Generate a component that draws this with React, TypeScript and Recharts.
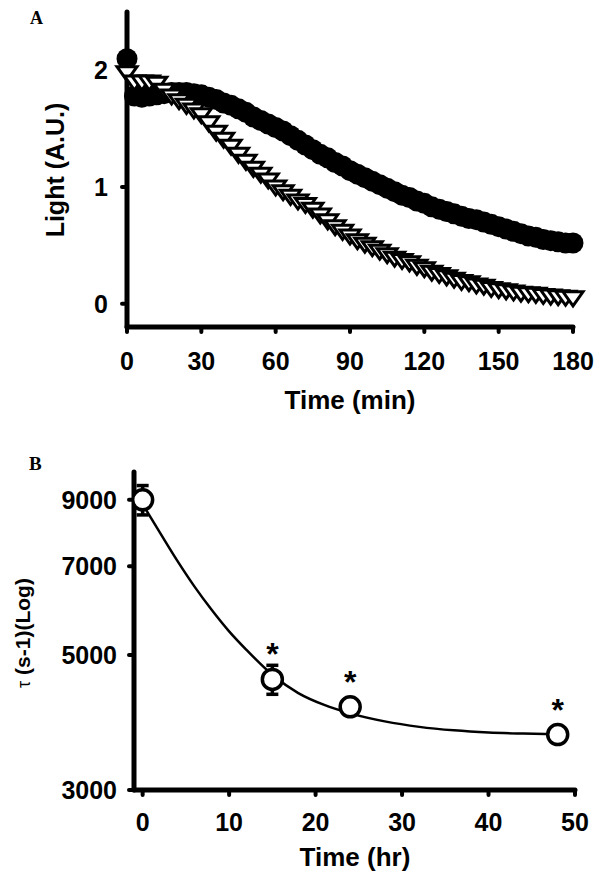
import React from "react";
import { ScatterChart, ComposedChart, Scatter, Line, XAxis, YAxis, ErrorBar } from "recharts";

// Panel A: light decay, sampled every 3 min
const minutes = [
  0, 3, 6, 9, 12, 15, 18, 21, 24, 27, 30, 33, 36, 39, 42, 45, 48, 51, 54, 57, 60,
  63, 66, 69, 72, 75, 78, 81, 84, 87, 90, 93, 96, 99, 102, 105, 108, 111, 114, 117, 120,
  123, 126, 129, 132, 135, 138, 141, 144, 147, 150, 153, 156, 159, 162, 165, 168, 171, 174, 177, 180,
];
const lightFilled = [
  2.1, 1.78, 1.77, 1.78, 1.79, 1.8, 1.81, 1.81, 1.81, 1.8, 1.79, 1.77, 1.75, 1.72, 1.7, 1.67, 1.64, 1.6, 1.57, 1.54, 1.51,
  1.48, 1.44, 1.4, 1.36, 1.32, 1.28, 1.25, 1.21, 1.18, 1.14, 1.11, 1.08, 1.05, 1.02, 0.99, 0.96, 0.93, 0.91, 0.88, 0.86,
  0.83, 0.81, 0.79, 0.77, 0.75, 0.73, 0.72, 0.7, 0.68, 0.66, 0.64, 0.62, 0.6, 0.58, 0.57, 0.55, 0.54, 0.53, 0.52, 0.52,
];
const lightOpen = [
  1.98, 1.9, 1.9, 1.9, 1.89, 1.83, 1.78, 1.74, 1.7, 1.66, 1.62, 1.55, 1.47, 1.41, 1.35, 1.28, 1.22, 1.16, 1.11, 1.06, 1.0,
  0.96, 0.92, 0.88, 0.85, 0.81, 0.76, 0.71, 0.66, 0.62, 0.58, 0.54, 0.51, 0.48, 0.45, 0.42, 0.39, 0.37, 0.35, 0.32, 0.3,
  0.27, 0.25, 0.23, 0.21, 0.19, 0.18, 0.16, 0.15, 0.13, 0.12, 0.11, 0.1, 0.09, 0.085, 0.08, 0.07, 0.065, 0.06, 0.055, 0.05,
];
const minuteTicks = [0, 30, 60, 90, 120, 150, 180];
const lightTicks = [0, 1, 2];

// Panel B: time constant
const hours = [0, 15, 24, 48];
const tauMean = [9000, 4560, 4110, 3700];
const tauSem = [500, 250, 80, 60];
const significant = [false, true, true, true];
const fitHours = [0, 2, 4, 6, 8, 10, 12, 15, 18, 21, 24, 28, 32, 36, 40, 44, 48];
const fitTau = [8850, 7950, 7150, 6480, 5930, 5470, 5100, 4640, 4330, 4140, 4010, 3890, 3810, 3760, 3730, 3715, 3705];
const hourTicks = [0, 10, 20, 30, 40, 50];
const tauTicks = [3000, 5000, 7000, 9000];

const filledData = minutes.map((t, i) => ({ t, v: lightFilled[i] }));
const openData = minutes.map((t, i) => ({ t, v: lightOpen[i] }));
const tauData = hours.map((t, i) => ({ t, tau: tauMean[i], err: tauSem[i], sig: significant[i] }));
const fitData = fitHours.map((t, i) => ({ t, tau: fitTau[i] }));

const sans = "'Liberation Sans', Arial, Helvetica, sans-serif";
const serif = "'Liberation Serif', 'Times New Roman', serif";

const axisLine = { stroke: "#000", strokeWidth: 5, strokeLinecap: "round" as const };
const tickLine = { stroke: "#000", strokeWidth: 4, strokeLinecap: "round" as const };
const tickStyle = { fill: "#000", fontSize: 25, fontWeight: 700, fontFamily: sans };

const FilledDot = (p: any) => <circle cx={p.cx} cy={p.cy} r={10.5} fill="#000" />;

const OpenTriangle = (p: any) => (
  <path
    d={`M${p.cx - 10},${p.cy - 6}L${p.cx + 10},${p.cy - 6}L${p.cx},${p.cy + 8}Z`}
    fill="#fff"
    stroke="#000"
    strokeWidth={3}
  />
);

const OpenCircle = (p: any) => (
  <g>
    <circle cx={p.cx} cy={p.cy} r={10} fill="#fff" stroke="#000" strokeWidth={3.5} />
    {p.payload?.sig && (
      <text x={p.cx} y={p.cy - 14} textAnchor="middle" fontSize={32} fontWeight={700} fontFamily={sans} fill="#000">
        *
      </text>
    )}
  </g>
);

export default function App() {
  return (
    <div style={{ position: "absolute", left: 0, top: 0, width: 604, height: 879, background: "#fff" }}>
      <ScatterChart width={604} height={430} margin={{ top: 12, right: 31, bottom: 43, left: 67 }}>
        <XAxis
          dataKey="t"
          type="number"
          domain={[0, 180]}
          ticks={minuteTicks}
          height={60}
          axisLine={axisLine}
          tickLine={tickLine}
          tickSize={5}
          tickMargin={20}
          tick={tickStyle}
        />
        <YAxis
          dataKey="v"
          type="number"
          domain={[-0.2, 2.5]}
          ticks={lightTicks}
          width={60}
          axisLine={axisLine}
          tickLine={tickLine}
          tickSize={5}
          tickMargin={14}
          tick={tickStyle}
        />
        <Scatter data={filledData} shape={FilledDot} isAnimationActive={false} />
        <Scatter data={openData} shape={OpenTriangle} isAnimationActive={false} />
        <text x={30} y={24} fontFamily={serif} fontWeight={700} fontSize={18} fill="#000">A</text>
        <text x={350} y={409} textAnchor="middle" fontFamily={sans} fontWeight={700} fontSize={26} fill="#000">
          Time (min)
        </text>
        <text
          x={64}
          y={170}
          textAnchor="middle"
          transform="rotate(-90 64 170)"
          fontFamily={sans}
          fontWeight={700}
          fontSize={25}
          fill="#000"
        >
          Light (A.U.)
        </text>
      </ScatterChart>

      <ComposedChart width={604} height={449} margin={{ top: 42, right: 29, bottom: 29, left: 64 }}>
        <XAxis
          dataKey="t"
          type="number"
          domain={[-1, 50]}
          ticks={hourTicks}
          height={60}
          axisLine={axisLine}
          tickLine={tickLine}
          tickSize={5}
          tickMargin={18}
          tick={tickStyle}
          allowDataOverflow
        />
        <YAxis
          type="number"
          scale="log"
          domain={[3000, 10000]}
          ticks={tauTicks}
          width={70}
          axisLine={axisLine}
          tickLine={tickLine}
          tickSize={5}
          tickMargin={12}
          tick={tickStyle}
          allowDataOverflow
        />
        <Line data={fitData} dataKey="tau" type="monotone" stroke="#000" strokeWidth={2.5} dot={false} isAnimationActive={false} />
        <Scatter data={tauData} dataKey="tau" shape={OpenCircle} isAnimationActive={false}>
          <ErrorBar dataKey="err" direction="y" width={6} strokeWidth={3.5} stroke="#000" isAnimationActive={false} />
        </Scatter>
        <text x={29} y={40} fontFamily={serif} fontWeight={700} fontSize={19} fill="#000">B</text>
        <text x={355} y={436} textAnchor="middle" fontFamily={sans} fontWeight={700} fontSize={26} fill="#000">
          Time (hr)
        </text>
        <text
          x={30}
          y={203}
          textAnchor="middle"
          transform="rotate(-90 30 203)"
          fontFamily={sans}
          fontWeight={700}
          fontSize={21}
          fill="#000"
        >
          <tspan fontWeight={400} fontSize={18}>τ</tspan>
          <tspan> (s-1)(Log)</tspan>
        </text>
      </ComposedChart>
    </div>
  );
}
